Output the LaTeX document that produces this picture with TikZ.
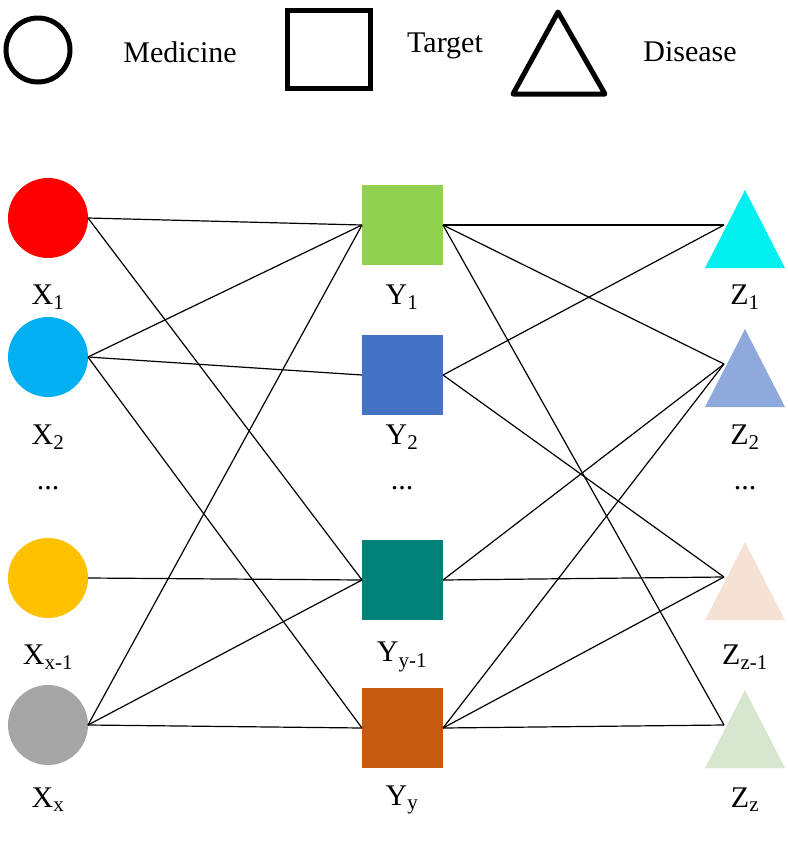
\documentclass[tikz,border=0pt]{standalone}
\usepackage{fontspec}
\setmainfont{Liberation Serif}
\usetikzlibrary{calc}
\definecolor{MRed}{HTML}{FF0000}
\definecolor{MBlue}{HTML}{00B0F0}
\definecolor{MGold}{HTML}{FFC000}
\definecolor{MGray}{HTML}{A6A6A6}
\definecolor{TGreen}{HTML}{92D050}
\definecolor{TBlue}{HTML}{4472C4}
\definecolor{TTeal}{HTML}{00827A}
\definecolor{TRust}{HTML}{C55A11}
\definecolor{DCyan}{HTML}{00F0F0}
\definecolor{DBlue}{HTML}{8EA9DB}
\definecolor{DPeach}{HTML}{F5E2D4}
\definecolor{DSage}{HTML}{D6E6CF}
\tikzset{
  lbl/.style={font=\fontsize{30}{32}\selectfont},
  legend/.style={line width=5pt},
  link/.style={line width=1.2pt}
}
\begin{document}
\begin{tikzpicture}[x=1pt,y=-1pt]
        \useasboundingbox (0,0) rectangle (788,847);
        % legend
        \draw[legend] (38,50) circle (32);
        \node[lbl] (med) at (180,52) {Medicine};
        \draw[legend] (287,10) rectangle (370,88);
        \node[lbl] (tar) at (445,46) {Target};
        \draw[legend,line join=round] (558,12) -- (605,94) -- (513,94) -- cycle;
        \node[lbl] (dis) at (690,52) {Disease};

        % medicines
        \foreach \n/\y/\c in {1/218/MRed,2/357/MBlue,3/578/MGold,4/725/MGray}
        {
            \fill[\c] (48,\y) circle (40);
            \coordinate (x\n) at (88,\y);
        }
        % targets
        \foreach \n/\y/\c in {1/225/TGreen,2/375/TBlue,3/580/TTeal,4/728/TRust}
        {
            \fill[\c] (362,\y-40) rectangle (443,\y+40);
            \coordinate (yl\n) at (362,\y);
            \coordinate (yr\n) at (443,\y);
        }
        % diseases
        \foreach \n/\y/\c in {1/229/DCyan,2/368/DBlue,3/581/DPeach,4/729/DSage}
        {
            \fill[\c] (745,\y-39) -- (785,\y+39) -- (705,\y+39) -- cycle;
            \coordinate (z\n) at (724,\y-4);
        }

        \foreach \a/\b in {1/1,1/3,2/1,2/2,2/4,3/3,4/1,4/3,4/4}
            \draw[link] (x\a) -- (yl\b);
        \foreach \a/\b in {1/1,1/2,1/4,2/1,2/3,3/2,3/3,4/2,4/3,4/4}
            \draw[link] (yr\a) -- (z\b);

        \node[lbl] (dx) at (48,488) {...};
        \node[lbl] (dy) at (402,488) {...};
        \node[lbl] (dz) at (745,488) {...};
        \node[lbl] (lx1) at (48,297) {X\textsubscript{1}};
        \node[lbl] (lx2) at (48,437) {X\textsubscript{2}};
        \node[lbl] (lx3) at (48,657) {X\textsubscript{x-1}};
        \node[lbl] (lx4) at (48,800) {X\textsubscript{x}};
        \node[lbl] (ly1) at (402,297) {Y\textsubscript{1}};
        \node[lbl] (ly2) at (402,437) {Y\textsubscript{2}};
        \node[lbl] (ly3) at (402,657) {Y\textsubscript{y-1}};
        \node[lbl] (ly4) at (402,800) {Y\textsubscript{y}};
        \node[lbl] (lz1) at (745,297) {Z\textsubscript{1}};
        \node[lbl] (lz2) at (745,437) {Z\textsubscript{2}};
        \node[lbl] (lz3) at (745,657) {Z\textsubscript{z-1}};
        \node[lbl] (lz4) at (745,800) {Z\textsubscript{z}};
\end{tikzpicture}
\end{document}
